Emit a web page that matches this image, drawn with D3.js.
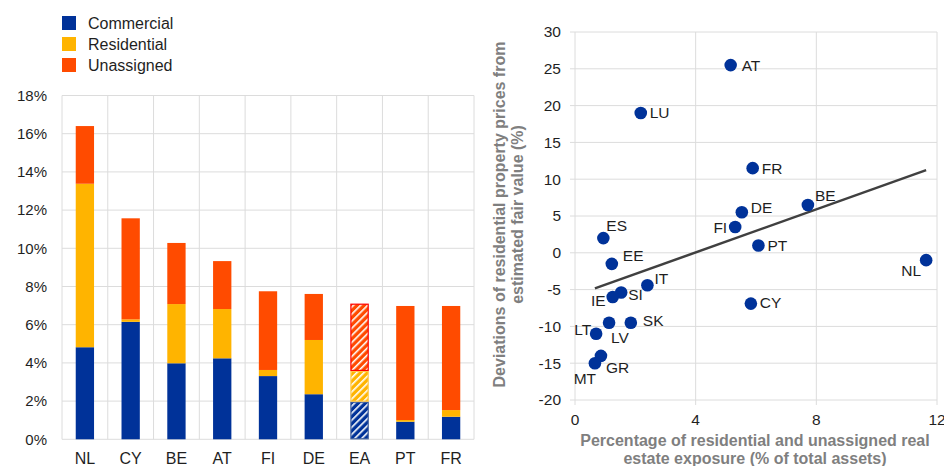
<!DOCTYPE html>
<html><head><meta charset="utf-8">
<script src="https://cdn.jsdelivr.net/npm/d3@7"></script>
<style>
html,body{margin:0;padding:0;background:#fff;}
svg{display:block;font-family:"Liberation Sans",Arial,sans-serif;}
</style></head>
<body><svg id="c" width="944" height="466"></svg>
<script>
// ---- Left chart data ----
const countries = ["NL","CY","BE","AT","FI","DE","EA","PT","FR"];
const commercial  = [4.82, 6.15, 3.98, 4.24, 3.31, 2.36, 1.97, 0.92, 1.18];
const residential = [8.56, 0.13, 3.10, 2.58, 0.32, 2.84, 1.61, 0.09, 0.35];
const unassigned  = [3.02, 5.29, 3.20, 2.51, 4.12, 2.41, 3.52, 5.97, 5.45];
const seriesNames = ["Commercial","Residential","Unassigned"];
const barTicks = [0,2,4,6,8,10,12,14,16,18];

// ---- Right chart data ----
const scatterLabels = ["AT","LU","FR","BE","DE","FI","ES","PT","NL","EE","IT","SI","IE","CY","LV","SK","LT","GR","MT"];
const exposure  = [5.16, 2.18, 5.89, 7.72, 5.53, 5.31, 0.94, 6.08, 11.64, 1.22, 2.40, 1.53, 1.25, 5.83, 1.13, 1.85, 0.70, 0.86, 0.66];
const deviation = [25.5, 19.0, 11.5, 6.5, 5.5, 3.5, 2.0, 1.0, -1.0, -1.5, -4.4, -5.4, -6.0, -6.9, -9.5, -9.5, -11.0, -14.0, -15.0];
const trendX = [0.66, 11.64];
const trendY = [-4.84, 11.24];
const xTicksR = [0,4,8,12];
const yTicksR = [-20,-15,-10,-5,0,5,10,15,20,25,30];

const colors = ["#003299","#FFB400","#FF4B00"];
const hatchBorders = ["#3a5a9a","#FFC94D","#FF0000"];
const svg = d3.select("#c");
const gridC = "#dcdcdc";
const textC = "#1f1f1f";

// patterns for EA
const defs = svg.append("defs");
colors.forEach((c,i)=>{
  const p = defs.append("pattern").attr("id","hatch"+i).attr("patternUnits","userSpaceOnUse")
    .attr("width",5).attr("height",5).attr("patternTransform","rotate(45)");
  p.append("rect").attr("width",5).attr("height",5).attr("fill",c);
  p.append("rect").attr("x",0).attr("y",0).attr("width",1.6).attr("height",5).attr("fill","#fff");
});

// ===== Left chart =====
const xB = d3.scaleBand().domain(countries).range([62,474]).paddingInner(0.6).paddingOuter(0.3);
const yB = d3.scaleLinear().domain([0,18]).range([439.3,95.5]);
const gL = svg.append("g");
gL.selectAll("line.h").data(barTicks).join("line")
  .attr("x1",62).attr("x2",474).attr("y1",d=>yB(d)).attr("y2",d=>yB(d))
  .attr("stroke",gridC).attr("stroke-width",1);
const step = xB.step();
gL.selectAll("line.v").data(d3.range(countries.length+1)).join("line")
  .attr("x1",d=>62+d*step).attr("x2",d=>62+d*step).attr("y1",yB(18)).attr("y2",yB(0))
  .attr("stroke",gridC).attr("stroke-width",1);
gL.selectAll("text.yl").data(barTicks).join("text")
  .attr("x",47).attr("y",d=>yB(d)).attr("dy","0.35em").attr("text-anchor","end")
  .attr("font-size",15).attr("fill",textC).text(d=>d+"%");
gL.selectAll("text.xl").data(countries).join("text")
  .attr("x",d=>xB(d)+xB.bandwidth()/2).attr("y",458).attr("dy","0.35em").attr("text-anchor","middle")
  .attr("font-size",16).attr("fill",textC).text(d=>d);
const stackData = countries.map((c,i)=>({c, v:[commercial[i],residential[i],unassigned[i]]}));
stackData.forEach(d=>{
  let base = 0;
  d.v.forEach((val,s)=>{
    const y0 = yB(base), y1 = yB(base+val);
    const hatched = d.c==="EA";
    gL.append("rect")
      .attr("x", xB(d.c) + (hatched?0.5:0)).attr("width", xB.bandwidth() - (hatched?1:0))
      .attr("y", y1 + (hatched?0.5:0)).attr("height", Math.max(0, y0-y1 - (hatched?1:0)))
      .attr("fill", hatched ? "url(#hatch"+s+")" : colors[s])
      .attr("stroke", hatched ? hatchBorders[s] : "none").attr("stroke-width",1.2);
    base += val;
  });
});
const lg = svg.append("g");
seriesNames.forEach((n,i)=>{
  lg.append("rect").attr("x",62).attr("y",16+i*21).attr("width",14).attr("height",14).attr("fill",colors[i]);
  lg.append("text").attr("x",88).attr("y",23+i*21).attr("dy","0.35em").attr("font-size",16).attr("fill",textC).text(n);
});

// ===== Right chart =====
const xS = d3.scaleLinear().domain([0,12]).range([575,937]);
const yS = d3.scaleLinear().domain([-20,30]).range([400,32]);
const gR = svg.append("g");
gR.selectAll("line.h").data(yTicksR).join("line")
  .attr("x1",xS(0)-5).attr("x2",xS(12)).attr("y1",d=>yS(d)).attr("y2",d=>yS(d))
  .attr("stroke",gridC).attr("stroke-width",1);
gR.selectAll("line.v").data(xTicksR).join("line")
  .attr("x1",d=>xS(d)).attr("x2",d=>xS(d)).attr("y1",yS(30)).attr("y2",yS(-20)+5)
  .attr("stroke",gridC).attr("stroke-width",1);
gR.selectAll("text.yl").data(yTicksR).join("text")
  .attr("x",561).attr("y",d=>yS(d)).attr("dy","0.35em").attr("text-anchor","end")
  .attr("font-size",15.5).attr("fill",textC).text(d=>d);
gR.selectAll("text.xl").data(xTicksR).join("text")
  .attr("x",d=>xS(d)).attr("y",420).attr("dy","0.35em").attr("text-anchor","middle")
  .attr("font-size",15.5).attr("fill",textC).text(d=>d);
const titleC = "#7f7f7f";
const xt = gR.append("text").attr("font-size",16).attr("font-weight","bold").attr("fill",titleC).attr("text-anchor","middle");
xt.append("tspan").attr("x",755).attr("y",440).attr("dy","0.35em").text("Percentage of residential and unassigned real");
xt.append("tspan").attr("x",755).attr("y",458).attr("dy","0.35em").text("estate exposure (% of total assets)");
gR.append("text").attr("transform","translate(499,214.5) rotate(-90)").attr("dy","0.35em")
  .attr("font-size",16).attr("font-weight","bold").attr("fill",titleC).attr("text-anchor","middle")
  .text("Deviations of residential property prices from");
gR.append("text").attr("transform","translate(517,214.5) rotate(-90)").attr("dy","0.35em")
  .attr("font-size",16).attr("font-weight","bold").attr("fill",titleC).attr("text-anchor","middle")
  .text("estimated fair value (%)");
gR.append("line").attr("x1",xS(trendX[0])).attr("y1",yS(trendY[0])).attr("x2",xS(trendX[1])).attr("y2",yS(trendY[1]))
  .attr("stroke","#404040").attr("stroke-width",2.5);
const pts = scatterLabels.map((l,i)=>({l,x:exposure[i],y:deviation[i]}));
gR.selectAll("circle").data(pts).join("circle")
  .attr("cx",d=>xS(d.x)).attr("cy",d=>yS(d.y)).attr("r",6.3).attr("fill","#003299");
const off = {AT:[11,0,"start"],LU:[9,0,"start"],FR:[9,0,"start"],BE:[7,-9,"start"],DE:[9,-5,"start"],
  FI:[-8,1,"end"],ES:[3,-13,"start"],PT:[9,0,"start"],NL:[-5,10,"end"],EE:[11,-8,"start"],IT:[7,-7,"start"],
  SI:[7,2,"start"],IE:[-7,4,"end"],CY:[9,-1,"start"],LV:[2,15,"start"],SK:[12,-2,"start"],LT:[-5,-4,"end"],
  GR:[5,12,"start"],MT:[-10,15,"middle"]};
gR.selectAll("text.pl").data(pts).join("text")
  .attr("x",d=>xS(d.x)+off[d.l][0]).attr("y",d=>yS(d.y)+off[d.l][1]).attr("dy","0.35em")
  .attr("text-anchor",d=>off[d.l][2]).attr("font-size",15.5).attr("fill",textC).text(d=>d.l);
</script></body></html>
